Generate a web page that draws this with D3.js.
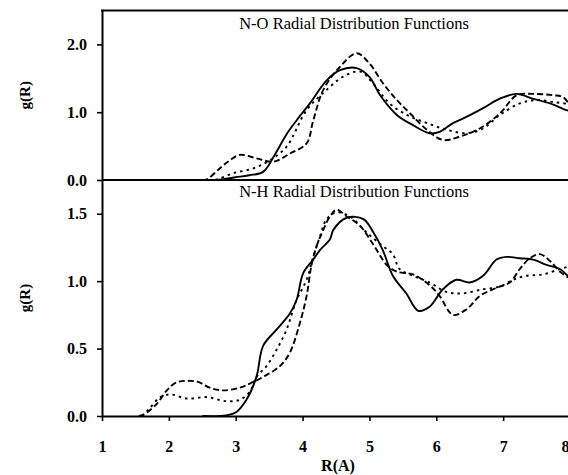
<!DOCTYPE html>
<html>
<head>
<meta charset="utf-8">
<script src="https://cdn.jsdelivr.net/npm/d3@7"></script>
<style>
    html, body { margin: 0; padding: 0; background: #fff; }
    svg { display: block; }
</style>
</head>
<body>
<div id="chart"></div>
<script>
    "use strict";

    // Tick values and labels.
    var xTicks = [1, 2, 3, 4, 5, 6, 7, 8];
    var yTicksNO = [0, 1, 2];
    var yTicksNH = [0, 0.5, 1, 1.5];
    var titleNO = "N-O Radial Distribution Functions";
    var titleNH = "N-H Radial Distribution Functions";
    var xLabel = "R(A)";
    var yLabel = "g(R)";

    // N-O g(R) curves. Format: [[R, g], ...]
    var noSolid = [[2.5, 0], [2.8, 0.01], [3.0, 0.04], [3.2, 0.07], [3.41, 0.12], [3.6, 0.4], [3.77, 0.69],
        [3.95, 0.93], [4.11, 1.13], [4.36, 1.47], [4.56, 1.62], [4.81, 1.65], [5.0, 1.52], [5.16, 1.25],
        [5.41, 0.96], [5.65, 0.81], [5.9, 0.69], [6.05, 0.71], [6.25, 0.84], [6.45, 0.93], [6.7, 1.06],
        [6.95, 1.2], [7.2, 1.27], [7.44, 1.2], [7.7, 1.13], [7.95, 1.03], [8.0, 1.02]];
    var noDashed = [[2.5, 0], [2.57, 0.01], [2.76, 0.17], [2.9, 0.28], [3.06, 0.37], [3.31, 0.32], [3.56, 0.27],
        [3.81, 0.39], [4.06, 0.54], [4.16, 0.88], [4.31, 1.33], [4.56, 1.67], [4.81, 1.87], [5.0, 1.72],
        [5.2, 1.43], [5.41, 1.18], [5.6, 0.99], [5.86, 0.74], [6.1, 0.59], [6.35, 0.64], [6.65, 0.76],
        [6.95, 0.98], [7.2, 1.25], [7.44, 1.27], [7.75, 1.25], [7.9, 1.22], [8.0, 1.1]];
    var noDotted = [[2.6, 0], [2.72, 0.01], [2.96, 0.1], [3.26, 0.17], [3.51, 0.29], [3.76, 0.49], [4.06, 1.03],
        [4.36, 1.33], [4.6, 1.52], [4.86, 1.6], [5.05, 1.43], [5.3, 1.13], [5.56, 0.96], [5.86, 0.84],
        [6.16, 0.74], [6.45, 0.69], [6.7, 0.76], [6.95, 0.96], [7.25, 1.13], [7.5, 1.18], [7.75, 1.15], [8.0, 1.12]];

    // N-H g(R) curves. Format: [[R, g], ...]
    var nhSolid = [[2.5, 0], [2.86, 0.005], [3.01, 0.03], [3.16, 0.12], [3.31, 0.29], [3.41, 0.52], [3.61, 0.64],
        [3.81, 0.76], [3.91, 0.86], [4.01, 1.06], [4.16, 1.16], [4.26, 1.23], [4.41, 1.31], [4.46, 1.38],
        [4.66, 1.47], [4.91, 1.46], [5.06, 1.36], [5.2, 1.23], [5.35, 1.04], [5.55, 0.91], [5.73, 0.78],
        [5.9, 0.81], [6.1, 0.94], [6.3, 1.01], [6.5, 0.99], [6.7, 1.04], [6.9, 1.16], [7.05, 1.18],
        [7.25, 1.17], [7.45, 1.16], [7.65, 1.12], [7.85, 1.09], [8.0, 1.02]];
    var nhDashed = [[1.55, 0], [1.62, 0.01], [1.82, 0.09], [1.97, 0.19], [2.12, 0.25], [2.42, 0.255], [2.61, 0.21],
        [2.81, 0.19], [3.06, 0.21], [3.21, 0.24], [3.41, 0.29], [3.66, 0.37], [3.81, 0.47], [3.96, 0.69],
        [4.06, 0.89], [4.13, 1.11], [4.21, 1.26], [4.31, 1.38], [4.41, 1.48], [4.51, 1.53], [4.66, 1.48],
        [4.86, 1.41], [5.06, 1.27], [5.26, 1.12], [5.41, 1.07], [5.65, 1.05], [5.9, 0.97], [6.05, 0.89],
        [6.25, 0.75], [6.45, 0.79], [6.65, 0.89], [6.9, 0.95], [7.1, 0.99], [7.25, 1.09], [7.4, 1.17],
        [7.55, 1.2], [7.7, 1.15], [7.85, 1.07], [8.0, 1.02]];
    var nhDotted = [[1.6, 0], [1.7, 0.05], [1.87, 0.14], [2.02, 0.16], [2.27, 0.13], [2.57, 0.14], [2.86, 0.11],
        [3.06, 0.12], [3.21, 0.18], [3.31, 0.29], [3.46, 0.37], [3.61, 0.49], [3.76, 0.64], [3.91, 0.86],
        [4.06, 1.01], [4.16, 1.18], [4.26, 1.33], [4.36, 1.46], [4.51, 1.51], [4.71, 1.48], [4.96, 1.36],
        [5.2, 1.26], [5.35, 1.2], [5.45, 1.09], [5.65, 1.04], [5.9, 0.99], [6.15, 0.92], [6.4, 0.91],
        [6.7, 0.94], [6.95, 0.96], [7.15, 1.01], [7.35, 1.04], [7.6, 1.05], [7.85, 1.09], [8.0, 1.11]];

    var width = 568, height = 475;
    var font = "'Liberation Serif', 'Times New Roman', serif";

    var svg = d3.select("#chart").append("svg")
        .attr("width", width)
        .attr("height", height);
    svg.append("rect").attr("width", width).attr("height", height).attr("fill", "#fff");

    // Scales: one shared x, one y per panel.
    var x = d3.scaleLinear().domain([1, 8]).range([102, 570]);
    var yNO = d3.scaleLinear().domain([0, 2.5]).range([180, 10.5]);
    var yNH = d3.scaleLinear().domain([0, 1.75]).range([416, 180]);

    function styleAxis(g) {
        g.select(".domain").attr("stroke", "#000").attr("stroke-width", 2);
        g.selectAll(".tick line").attr("stroke", "#000").attr("stroke-width", 1.6);
        g.selectAll(".tick text")
            .attr("fill", "#000")
            .style("font-family", font)
            .style("font-weight", "bold")
            .style("font-size", "16px");
    }

    // Left axes.
    svg.append("g")
        .attr("transform", "translate(" + x(1) + ",0)")
        .call(d3.axisLeft(yNO).tickValues(yTicksNO).tickFormat(d3.format(".1f")).tickSize(5).tickSizeOuter(0).tickPadding(10))
        .call(styleAxis);
    svg.append("g")
        .attr("transform", "translate(" + x(1) + ",0)")
        .call(d3.axisLeft(yNH).tickValues(yTicksNH).tickFormat(d3.format(".1f")).tickSize(5).tickSizeOuter(0).tickPadding(10))
        .call(styleAxis);

    // Bottom axis.
    var xAxis = svg.append("g")
        .attr("transform", "translate(0," + yNH(0) + ")")
        .call(d3.axisBottom(x).tickValues(xTicks).tickFormat(d3.format("d")).tickSize(5).tickSizeOuter(0).tickPadding(20))
        .call(styleAxis);
    // The last label sits on the page edge; pull it in so it stays readable.
    xAxis.selectAll(".tick text").filter(function (d) { return d === 8; }).attr("dx", -5);

    // Frame lines: top border and the panel divider.
    var frame = svg.append("g").attr("stroke", "#000").attr("stroke-width", 2);
    frame.append("line")
        .attr("x1", x(1) - 1).attr("x2", x(8))
        .attr("y1", yNO.range()[1]).attr("y2", yNO.range()[1]);
    frame.append("line")
        .attr("x1", x(1)).attr("x2", x(8))
        .attr("y1", yNO(0)).attr("y2", yNO(0));

    // Curves.
    var series = [
        {data: noSolid, y: yNO, dash: null},
        {data: noDashed, y: yNO, dash: "6,3"},
        {data: noDotted, y: yNO, dash: "2.5,4"},
        {data: nhSolid, y: yNH, dash: null},
        {data: nhDashed, y: yNH, dash: "6,3"},
        {data: nhDotted, y: yNH, dash: "2.5,4"}
    ];

    svg.append("g")
        .attr("class", "curves")
        .selectAll("path")
        .data(series)
        .enter().append("path")
        .attr("fill", "none")
        .attr("stroke", "#000")
        .attr("stroke-width", 1.9)
        .attr("stroke-dasharray", function (d) { return d.dash; })
        .attr("d", function (d) {
            return d3.line()
                .x(function (p) { return x(p[0]); })
                .y(function (p) { return d.y(p[1]); })
                .curve(d3.curveCatmullRom.alpha(0.5))(d.data);
        });

    // Panel titles.
    svg.append("text")
        .attr("x", 354).attr("y", 29)
        .attr("text-anchor", "middle")
        .style("font-family", font).style("font-size", "16.5px")
        .text(titleNO);
    svg.append("text")
        .attr("x", 354).attr("y", 197)
        .attr("text-anchor", "middle")
        .style("font-family", font).style("font-size", "16.5px")
        .text(titleNH);

    // Axis titles.
    [yNO, yNH].forEach(function (y) {
        var mid = (y.range()[0] + y.range()[1]) / 2;
        svg.append("text")
            .attr("transform", "translate(30," + mid + ") rotate(-90)")
            .attr("text-anchor", "middle")
            .style("font-family", font).style("font-weight", "bold").style("font-size", "15px")
            .text(yLabel);
    });
    svg.append("text")
        .attr("x", 338).attr("y", 471)
        .attr("text-anchor", "middle")
        .style("font-family", font).style("font-weight", "bold").style("font-size", "16px")
        .text(xLabel);
</script>
</body>
</html>
